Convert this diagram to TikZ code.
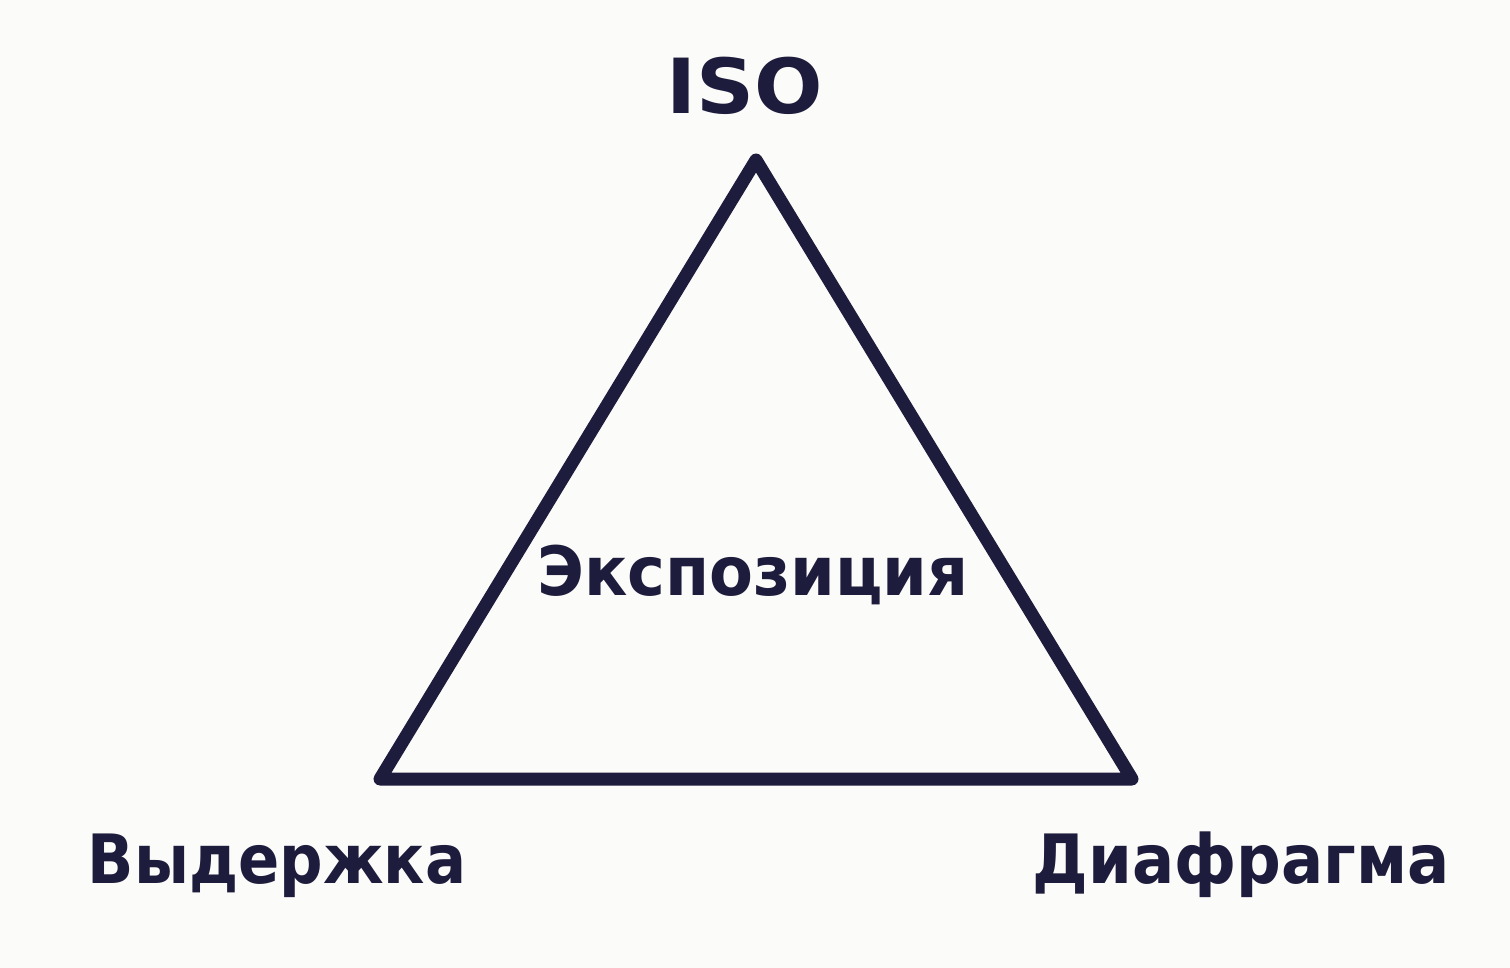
\documentclass[tikz,border=0pt]{standalone}
\usepackage{fontspec}
\setmainfont{DejaVu Sans}
\definecolor{ink}{HTML}{1E1C3C}
\definecolor{paper}{HTML}{FBFBF9}
\begin{document}
\begin{tikzpicture}[x=1pt,y=-1pt,
  lbl/.style={anchor=base,inner sep=0pt,text=ink,font=\bfseries\fontsize{68}{80}\selectfont},
  edge/.style={draw=ink,line width=13pt,line join=round,line cap=round}]
\fill[paper] (0,0) rectangle (1510,968);
\useasboundingbox (0,0) rectangle (1510,968);
\coordinate (top) at (756,160);
\coordinate (bl) at (380,779);
\coordinate (br) at (1132,779);
\draw[edge] (top) -- (bl) -- (br) -- cycle;
\node[lbl,font=\bfseries\fontsize{76}{90}\selectfont] (iso) at (745,114) {\scalebox{1.06}[1]{ISO}};
\node[lbl] (exp) at (753,595) {\scalebox{0.94}[1]{Экспозиция}};
\node[lbl] (vyd) at (277,883) {\scalebox{0.895}[1]{Выдержка}};
\node[lbl] (dia) at (1241,883) {\scalebox{0.92}[1]{Диафрагма}};
\end{tikzpicture}
\end{document}
